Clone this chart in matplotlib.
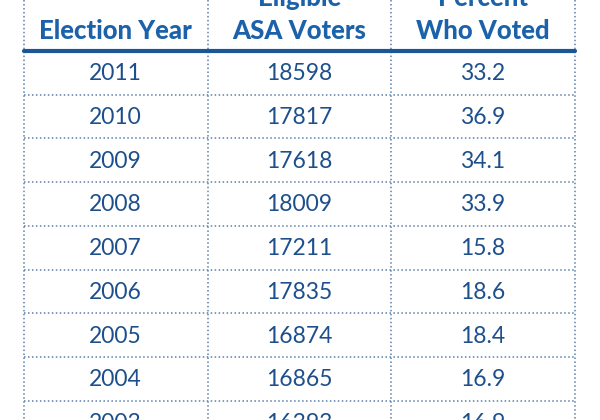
import matplotlib.pyplot as plt

# DATA
YEARS = ["2011", "2010", "2009", "2008", "2007", "2006", "2005", "2004", "2003"]
VOTERS = ["18598", "17817", "17618", "18009", "17211", "17835", "16874", "16865", "16393"]
PERCENTS = ["33.2", "36.9", "34.1", "33.9", "15.8", "18.6", "18.4", "16.9", "16.9"]
HEADERS = [["", "Election Year"], ["Eligible", "ASA Voters"], ["Percent", "Who Voted"]]

# LAYOUT (pixels)
COL_EDGES = [24, 207.5, 391, 574.5]
HEADER_LINE_Y = 51
ROW_H = 43.7
HEADER_COLOUR = "#1c62ab"
BODY_COLOUR = "#1d4f8c"
LINE_COLOUR = "#1c5697"
DOT_COLOUR = "#5a80ab"
FONT = "Lato"

fig = plt.figure(figsize=(6, 4.2), dpi=100, facecolor="white")
ax = fig.add_axes([0, 0, 1, 1])
ax.set_xlim(0, 600)
ax.set_ylim(420, 0)
ax.axis("off")

centres = [(COL_EDGES[i] + COL_EDGES[i + 1]) / 2 for i in range(3)]

# Header (two lines, the top one runs off the image)
for c, (top, bottom) in zip(centres, HEADERS):
    if top:
        ax.text(c, -2, top, ha="center", va="center", fontsize=18.5, fontweight="black",
                color=HEADER_COLOUR, family=FONT)
    ax.text(c, 31, bottom, ha="center", va="center", fontsize=18.5, fontweight="black",
            color=HEADER_COLOUR, family=FONT)

ax.plot([COL_EDGES[0], COL_EDGES[-1]], [HEADER_LINE_Y, HEADER_LINE_Y], color=LINE_COLOUR,
        lw=3, solid_capstyle="round", zorder=3)

# Vertical dotted lines
for x in COL_EDGES:
    ax.plot([x, x], [0, 420], color=DOT_COLOUR, lw=1.1, ls=(0, (1, 1.6)), zorder=2)

# Body rows
for i, row in enumerate(zip(YEARS, VOTERS, PERCENTS)):
    y_top = HEADER_LINE_Y + i * ROW_H
    y_mid = y_top + ROW_H / 2 + 1
    for c, val in zip(centres, row):
        ax.text(c, y_mid, val, ha="center", va="center", fontsize=16.5, color=BODY_COLOUR,
                family=FONT)
    y_bottom = y_top + ROW_H
    ax.plot([COL_EDGES[0], COL_EDGES[-1]], [y_bottom, y_bottom], color=DOT_COLOUR, lw=1.1,
            ls=(0, (1, 1.6)), zorder=2)

fig.savefig("out.png", dpi=100, facecolor="white")
